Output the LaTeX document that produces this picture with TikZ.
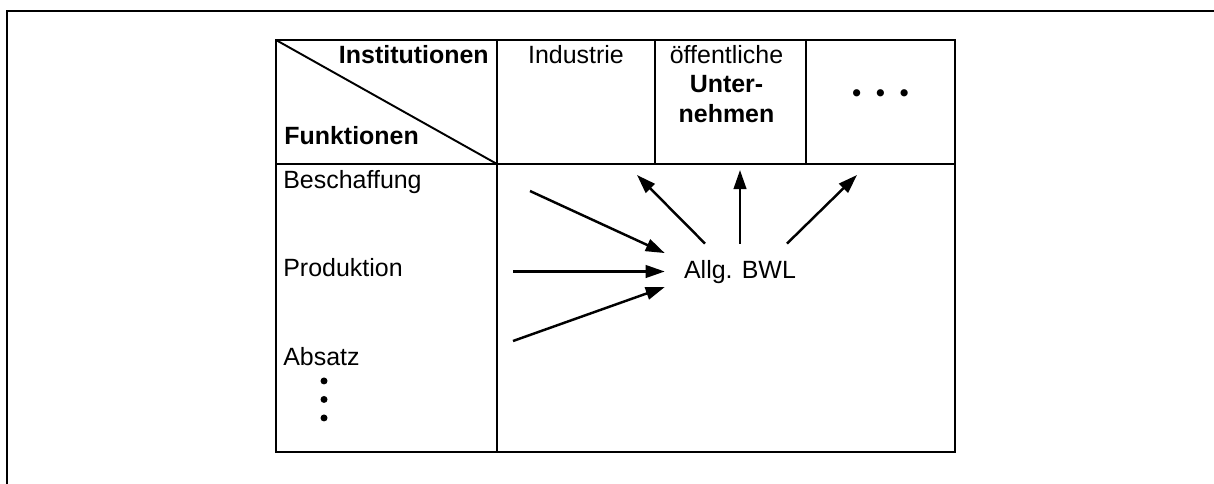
\documentclass[tikz,border=0pt]{standalone}
\usepackage{fontspec}
\setmainfont{Liberation Sans}
\usepackage{xcolor}
\usepackage{tikz}
\usetikzlibrary{positioning,calc,arrows.meta}

\begin{document}
\begin{tikzpicture}[font=\fontsize{14.2}{16.8}\selectfont,
        cell/.style={draw=black, line width=1.1pt, inner sep=0pt, outer sep=0pt, anchor=north west},
        flow/.style={->, >={Triangle[length=.38cm, width=.25cm]}, line width=1.4pt}]
        \useasboundingbox (0,0) rectangle (24.28,-9.66);
        \draw[line width=1.5pt] (0.14,-9.8) -- (0.14,-0.22) -- (24.4,-0.22);

        \node (corner) [cell, minimum height=2.48cm, minimum width=4.42cm] at (5.52,-0.8) {};
        \node (industrie) [cell, minimum height=2.48cm, minimum width=3.16cm] at (corner.north east) {};
        \node (oeffentlich) [cell, minimum height=2.48cm, minimum width=3.02cm] at (industrie.north east) {};
        \node (weitere) [cell, minimum height=2.48cm, minimum width=2.98cm] at (oeffentlich.north east) {};
        \node (funktionen) [cell, minimum height=5.76cm, minimum width=4.42cm] at (corner.south west) {};
        \node (bwlfeld) [cell, minimum height=5.76cm, minimum width=9.16cm] at (funktionen.north east) {};
        \draw[line width=1.1pt] (corner.north west) -- (corner.south east);

        \node (instlabel) [below left, inner xsep=.16cm, inner ysep=.1cm] at (corner.north east) {\textbf{Institutionen}};
        \node (funklabel) [above right, inner xsep=.16cm, inner ysep=.38cm] at (corner.south west) {\textbf{Funktionen}};
        \node (industrielabel) [below, inner sep=.1cm] at (industrie.north) {Industrie};
        \node (oeffentlichlabel) [below, inner sep=.1cm, align=center, xshift=-.08cm] at (oeffentlich.north) {öffentliche\\\textbf{Unter-}\\\textbf{nehmen}};
        \node (weiterelabel) [yshift=.12cm] at (weitere.center) {\textbf{•\hspace{.3cm}•\hspace{.3cm}•}};

        \node (beschaffung) [below right, inner xsep=.14cm, inner ysep=.12cm] at (funktionen.north west) {Beschaffung};
        \node (produktion) [anchor=base west, inner xsep=.14cm] at ([yshift=-1.77cm]beschaffung.base west) {Produktion};
        \node (absatz) [anchor=base west, inner xsep=.14cm] at ([yshift=-1.78cm]produktion.base west) {Absatz};
        \foreach \i in {0,1,2}
            \node (vpunkt\i) [circle, fill=black, inner sep=0pt, minimum size=.14cm] at ([xshift=.96cm, yshift=-.3cm-\i*.37cm]absatz.base west) {};

        \node (bwl) [inner xsep=.38cm, inner ysep=.32cm, anchor=base] at (14.8,-5.56) {Allg. BWL};

        \coordinate (von1) at (10.6,-3.82);
        \coordinate (von2) at (10.26,-5.43);
        \coordinate (von3) at (10.26,-6.82);
        \coordinate (nach1) at (12.74,-3.5);
        \coordinate (nach2) at (14.76,-3.4);
        \coordinate (nach3) at (17.14,-3.5);

        \draw[flow] (von1) -- ([yshift=.37cm]bwl.west);
        \draw[flow] (von2) -- (von2 -| bwl.west);
        \draw[flow] (von3) -- ([yshift=-.31cm]bwl.west);
        \draw[flow] ([xshift=-.7cm]bwl.north) -- (nach1);
        \draw[flow] (bwl.north) -- (bwl.north |- nach2);
        \draw[flow] ([xshift=.94cm]bwl.north) -- (nach3);
    \end{tikzpicture}
\end{document}
